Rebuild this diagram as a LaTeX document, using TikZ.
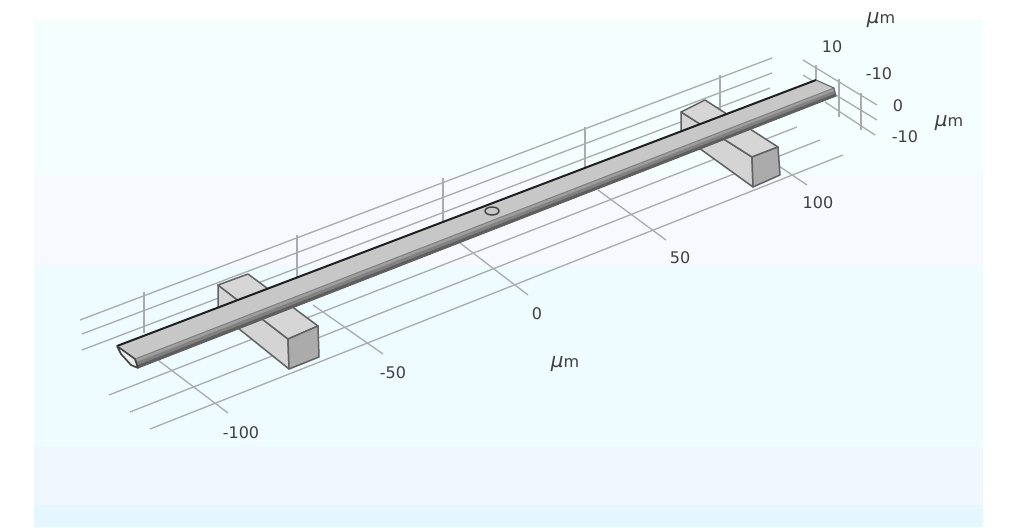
\documentclass[tikz,border=0pt]{standalone}
\usepackage{fontspec}
\setmainfont{DejaVu Sans}
\usetikzlibrary{positioning,calc}
\definecolor{panelA}{HTML}{F5FEFE}
\definecolor{panelB}{HTML}{F7F9FF}
\definecolor{panelC}{HTML}{EEFBFF}
\definecolor{panelD}{HTML}{F0F7FE}
\definecolor{panelE}{HTML}{E4F6FE}
\definecolor{gridcol}{HTML}{A8ACAE}
\definecolor{labelcol}{HTML}{404040}
\newcommand{\micron}{{\fontsize{20}{18}\selectfont\itshape μ}m}
\begin{document}
\begin{tikzpicture}[
     x=1pt, y=-1pt,
        grid/.style = {gridcol, line width=1.3pt},
        tick/.style = {font=\fontsize{16}{18}\selectfont, text=labelcol, inner sep=0pt},
       block/.style = {draw=black!62, line width=1.5pt, line join=round}
                        ]
\useasboundingbox (0,0) rectangle (1024,527);
\fill[white] (0,0) rectangle (1024,527);
\fill[panelA] (34,20) rectangle (983,175);
\fill[panelB] (34,175) rectangle (983,265);
\fill[panelC] (34,265) rectangle (983,447);
\fill[panelD] (34,447) rectangle (983,505);
\fill[panelE] (34,505) rectangle (983,527);
% back wall
\draw[grid] (80,320) -- (772,58);
\draw[grid] (82,334) -- (772,73);
\draw[grid] (82,350) -- (770,88);
\draw[grid] (144,292) -- (144,333);
\draw[grid] (297,235) -- (297,277);
\draw[grid] (443,178) -- (443,225);
\draw[grid] (585,127) -- (585,172);
\draw[grid] (720,75) -- (720,112);
% floor
\draw[grid] (109,395) -- (797,127);
\draw[grid] (130,412) -- (820,140);
\draw[grid] (150,429) -- (843,155);
\draw[grid] (158,360) -- (228,413);
\draw[grid] (313,305) -- (383,354);
\draw[grid] (460,243) -- (528,295);
\draw[grid] (598,190) -- (666,240);
\draw[grid] (770,160) -- (807,185);
% end wall
\draw[grid] (803,60) -- (877,105);
\draw[grid] (803,75) -- (877,120);
\draw[grid] (825,102) -- (875,135);
\draw[grid] (816,65) -- (816,80);
\draw[grid] (839,79) -- (839,117);
\draw[grid] (861,93) -- (861,130);
% supports
\filldraw[block, fill=black!17] (218,285) -- (288,339) -- (289,369) -- (218,312) -- cycle;
\filldraw[block, fill=black!16] (218,285) -- (248,274) -- (318,326) -- (288,339) -- cycle;
\filldraw[block, fill=black!33] (288,339) -- (318,326) -- (319,357) -- (289,369) -- cycle;
\filldraw[block, fill=black!17] (681,112) -- (752,157) -- (753,187) -- (681,135) -- cycle;
\filldraw[block, fill=black!16] (681,112) -- (705,100) -- (778,147) -- (752,157) -- cycle;
\filldraw[block, fill=black!33] (752,157) -- (778,147) -- (780,175) -- (753,187) -- cycle;
% beam
\coordinate (backL) at (117,346);
\coordinate (backR) at (816,80);
\coordinate (frontL) at (135,359);
\coordinate (frontR) at (834,88);
\coordinate (lowL) at (138,368);
\coordinate (lowR) at (836,96);
\fill[black!22] (backL) -- (backR) -- (frontR) -- (frontL) -- cycle;
\fill[black!38] (frontL) -- (frontR) -- (lowR) -- (lowL) -- cycle;
\fill[black!50] ($(frontL)!0.35!(lowL)$) -- ($(frontR)!0.35!(lowR)$) -- (lowR) -- (lowL) -- cycle;
\fill[black!63] ($(frontL)!0.7!(lowL)$) -- ($(frontR)!0.7!(lowR)$) -- (lowR) -- (lowL) -- cycle;
\draw[black!88, line width=2pt] (backL) -- (backR);
\draw[black!50, line width=1pt] (frontL) -- (frontR);
\draw[black!62, line width=1pt] (lowL) -- (lowR);
\draw[black!62, line width=1pt] (backR) -- (frontR) -- (lowR);
% beam end
\filldraw[black!75, fill=black!8, line width=1.6pt, line join=round] (backL) -- (frontL) -- (lowL) -- (131,365) -- (121,354) -- cycle;
% hole
\draw[black!75, line width=1.4pt] (492,211) ellipse (7 and 4);
% axis labels
\node[tick] (unitY) at (881,20) {\micron};
\node[tick] (zTen) at (832,47) {10};
\node[tick] (yMinus) at (879,74) {-10};
\node[tick] (zZero) at (898,106) {0};
\node[tick] (zMinus) at (905,137) {-10};
\node[tick] (unitZ) at (949,123) {\micron};
\node[tick] (xHundred) at (818,203) {100};
\node[tick] (xFifty) at (680,258) {50};
\node[tick] (xZero) at (537,314) {0};
\node[tick] (xMinusFifty) at (393,373) {-50};
\node[tick] (xMinusHundred) at (241,433) {-100};
\node[tick] (unitX) at (565,364) {\micron};
\end{tikzpicture}
\end{document}
